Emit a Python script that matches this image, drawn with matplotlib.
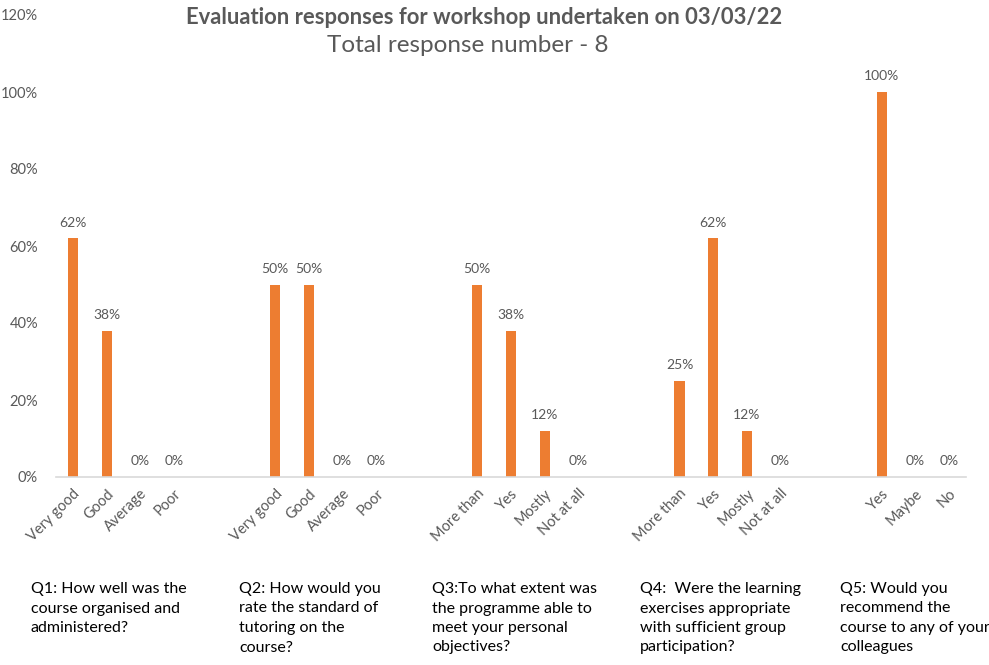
import matplotlib
matplotlib.use('Agg')
import matplotlib.pyplot as plt

plt.rcParams['font.family'] = ['Lato', 'DejaVu Sans']

# Answer options and share of responses for each question
q1_labels = ['Very good', 'Good', 'Average', 'Poor']
q1_values = [0.62, 0.38, 0.0, 0.0]
q2_labels = ['Very good', 'Good', 'Average', 'Poor']
q2_values = [0.50, 0.50, 0.0, 0.0]
q3_labels = ['More than', 'Yes', 'Mostly', 'Not at all']
q3_values = [0.50, 0.38, 0.12, 0.0]
q4_labels = ['More than', 'Yes', 'Mostly', 'Not at all']
q4_values = [0.25, 0.62, 0.12, 0.0]
q5_labels = ['Yes', 'Maybe', 'No']
q5_values = [1.00, 0.0, 0.0]

questions = [
    'Q1: How well was the\ncourse organised and\nadministered?',
    'Q2: How would you\nrate the standard of\ntutoring on the\ncourse?',
    'Q3:To what extent was\nthe programme able to\nmeet your personal\nobjectives?',
    'Q4:  Were the learning\nexercises appropriate\nwith sufficient group\nparticipation?',
    'Q5: Would you\nrecommend the\ncourse to any of your\ncolleagues',
]
question_x = [31, 239, 432, 640, 840]

TEXT = '#595959'
BAR = '#ED7D31'

# Lay the groups out one after another with two empty slots between them
groups = [(q1_labels, q1_values), (q2_labels, q2_values), (q3_labels, q3_values),
          (q4_labels, q4_values), (q5_labels, q5_values)]
labels, values = [], []
for i, (lab, val) in enumerate(groups):
    if i:
        labels += ['', '']
        values += [None, None]
    labels += lab
    values += val

fig = plt.figure(figsize=(9.89, 6.65), dpi=100)
W, H = 989, 665
ax = fig.add_axes([56 / W, (H - 477) / H, (966 - 56) / W, (477 - 15) / H])

xs = list(range(len(labels)))
bar_x = [x for x, v in zip(xs, values) if v is not None]
bar_v = [v for v in values if v is not None]
ax.bar(bar_x, bar_v, width=0.3, color=BAR)
for x, v in zip(bar_x, bar_v):
    ax.annotate(f'{round(v * 100):.0f}%', (x, v), xytext=(0, 7),
                textcoords='offset points', ha='center', va='bottom',
                fontsize=10, color=TEXT)

ax.set_xlim(-0.5, len(labels) - 0.5)
ax.set_ylim(0, 1.2)
ax.set_yticks([i / 5 for i in range(7)])
ax.set_yticklabels([f'{i * 20}%' for i in range(7)], fontsize=10.5, color=TEXT)
ax.set_xticks(xs)
ax.set_xticklabels(labels, rotation=45, ha='right', rotation_mode='anchor',
                   fontsize=10.5, color=TEXT)
ax.tick_params(axis='both', length=0)
ax.tick_params(axis='y', pad=13)
ax.tick_params(axis='x', pad=7)
for side in ('top', 'right', 'left'):
    ax.spines[side].set_visible(False)
ax.spines['bottom'].set_color('#D9D9D9')
ax.spines['bottom'].set_linewidth(1.2)

fig.text(484 / W, 1 - 17 / H, 'Evaluation responses for workshop undertaken on 03/03/22',
         ha='center', va='center', fontsize=15.8, fontweight='bold', color=TEXT)
fig.text(468 / W, 1 - 45 / H, 'Total response number - 8',
         ha='center', va='center', fontsize=17.5, color=TEXT)

for qx, qt in zip(question_x, questions):
    fig.text(qx / W, 1 - 582 / H, qt, ha='left', va='top', fontsize=11.5,
             color='black', linespacing=1.5)

fig.savefig('out.png', dpi=100)
